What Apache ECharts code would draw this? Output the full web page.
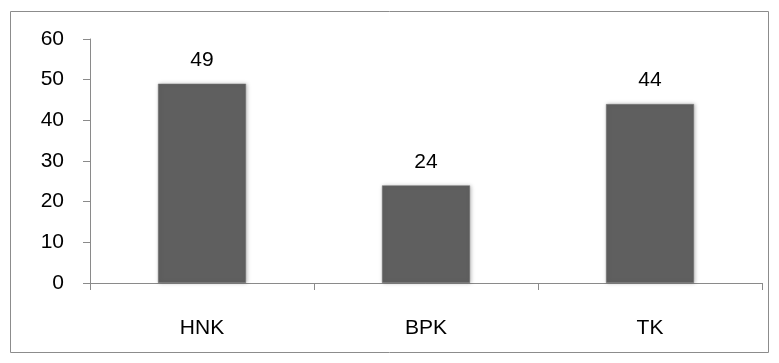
<!DOCTYPE html>
<html><head><meta charset="utf-8">
<script src="https://cdn.jsdelivr.net/npm/echarts@6/dist/echarts.min.js"></script>
<style>html,body{margin:0;padding:0;background:#fff}#c{width:779px;height:363px}</style>
</head><body><div id="c"></div>
<script>
const categories = ['HNK', 'BPK', 'TK'];
const values = [49, 24, 44];
const yTicks = [0, 10, 20, 30, 40, 50, 60];

const chart = echarts.init(document.getElementById('c'), null, {renderer: 'canvas'});
const font = 'Liberation Sans';
chart.setOption({
  animation: false,
  graphic: [{type: 'rect', shape: {x: 10.5, y: 11.5, width: 758, height: 341}, style: {fill: 'none', stroke: '#8c8c8c', lineWidth: 1}}],
  grid: {left: 90, right: 17, top: 39, bottom: 80, containLabel: false},
  xAxis: {
    type: 'category', data: categories,
    axisLine: {lineStyle: {color: '#8a8a8a', width: 1}},
    axisTick: {show: true, length: 7, lineStyle: {color: '#8a8a8a'}},
    axisLabel: {color: '#000', fontFamily: font, fontSize: 21, margin: 35}
  },
  yAxis: {
    type: 'value', min: yTicks[0], max: yTicks[yTicks.length - 1], interval: 10,
    axisLine: {show: true, lineStyle: {color: '#8a8a8a', width: 1}},
    axisTick: {show: true, length: 7, lineStyle: {color: '#8a8a8a'}},
    splitLine: {show: false},
    axisLabel: {color: '#000', fontFamily: font, fontSize: 21, margin: 26}
  },
  series: [{
    type: 'bar', data: values, barWidth: 88,
    itemStyle: {color: '#5f5f5f', borderColor: '#777', borderWidth: 0.5, shadowColor: 'rgba(0,0,0,0.25)', shadowBlur: 4, shadowOffsetX: 1, shadowOffsetY: 0},
    label: {show: true, position: 'top', distance: 13, color: '#000', fontFamily: font, fontSize: 21}
  }]
});
</script></body></html>
